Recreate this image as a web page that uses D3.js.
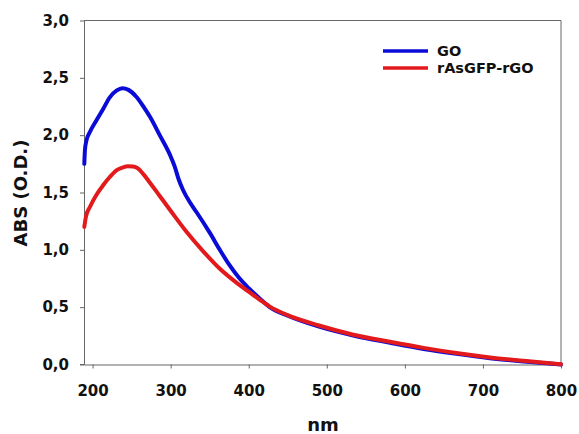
<!DOCTYPE html>
<html><head><meta charset="utf-8">
<script src="https://cdn.jsdelivr.net/npm/d3@7"></script>
<style>body{margin:0;background:#fff}svg{display:block}text{font-family:"DejaVu Sans",sans-serif;font-weight:bold;fill:#111}</style>
</head><body><svg id="c" width="579" height="434"></svg>
<script>
const seriesNames = ["GO", "rAsGFP-rGO"];
const seriesColors = ["#0b0bd8", "#e31a1c"];
const goWavelength = [189.4,190.2,192,196.7,205,213.7,222,231,238,246,256,266,273.5,286,299,305,310,316,325,333,350,363,375,387,400,415,427,450,490,534,581,624,666,709,752,800];
const goAbs = [1.75,1.87,1.95,2.03,2.13,2.23,2.33,2.39,2.41,2.395,2.335,2.24,2.16,2.00,1.83,1.73,1.62,1.52,1.41,1.33,1.15,1.00,0.87,0.76,0.665,0.57,0.50,0.425,0.33,0.253,0.19,0.136,0.093,0.055,0.026,0.0];
const rgoWavelength = [189.4,191.5,196.7,205,213.7,222,231,239,245,252,258,265,273,286,299,320,342,363,385,400,415,427,450,490,534,581,624,666,709,752,800];
const rgoAbs = [1.20,1.29,1.376,1.48,1.565,1.635,1.695,1.72,1.73,1.727,1.71,1.66,1.59,1.47,1.35,1.16,0.985,0.835,0.71,0.635,0.56,0.505,0.43,0.34,0.26,0.198,0.145,0.10,0.062,0.032,0.003];
const xTicks = [200,300,400,500,600,700,800];
const yTicks = [0,0.5,1,1.5,2,2.5,3];

const svg = d3.select("#c");
const L = 84, R = 561, T = 20.5, B = 364.5;
const x = d3.scaleLinear().domain([189, 800]).range([L, R]);
const y = d3.scaleLinear().domain([0, 3]).range([B, T]);
const axisColor = "#666";

// frame (top and right)
svg.append("line").attr("x1", L).attr("x2", R).attr("y1", T).attr("y2", T).attr("stroke", axisColor);
svg.append("line").attr("x1", R).attr("x2", R).attr("y1", T).attr("y2", B).attr("stroke", axisColor);

const fmt = d => d3.format(".1f")(d).replace(".", ",");
const xa = svg.append("g").attr("transform", `translate(0,${B})`)
  .call(d3.axisBottom(x).tickValues(xTicks).tickSize(4).tickSizeOuter(0).tickPadding(17));
const ya = svg.append("g").attr("transform", `translate(${L},0)`)
  .call(d3.axisLeft(y).tickValues(yTicks).tickFormat(fmt).tickSize(4).tickSizeOuter(0).tickPadding(11));
[xa, ya].forEach(g => {
  g.select(".domain").attr("stroke", axisColor);
  g.selectAll(".tick line").attr("stroke", axisColor);
  g.selectAll("text").attr("font-size", 15).attr("font-family", "DejaVu Sans").attr("font-weight", "bold").attr("fill", "#111");
});
// extend x-axis line left to meet y ticks
svg.append("line").attr("x1", L - 4).attr("x2", L).attr("y1", B).attr("y2", B).attr("stroke", axisColor);

const line = d3.line().x(d => x(d[0])).y(d => y(d[1])).curve(d3.curveMonotoneX);
const data = [d3.zip(goWavelength, goAbs), d3.zip(rgoWavelength, rgoAbs)];
// draw blue first, red on top
data.forEach((d, i) => {
  svg.append("path").datum(d).attr("d", line).attr("fill", "none")
    .attr("stroke", seriesColors[i]).attr("stroke-width", 4).attr("stroke-linejoin", "round").attr("stroke-linecap", "round");
});

// legend
seriesNames.forEach((n, i) => {
  const yy = 51 + i * 17;
  svg.append("line").attr("x1", 383).attr("x2", 428).attr("y1", yy).attr("y2", yy)
    .attr("stroke", seriesColors[i]).attr("stroke-width", 3.5);
  svg.append("text").attr("x", 437).attr("y", yy + 5.3).attr("font-size", 14.5).text(n);
});

// axis titles
svg.append("text").attr("x", 323).attr("y", 431).attr("text-anchor", "middle").attr("font-size", 18).text("nm");
svg.append("text").attr("transform", "translate(27,193) rotate(-90)").attr("text-anchor", "middle").attr("font-size", 18).text("ABS (O.D.)");
</script></body></html>
